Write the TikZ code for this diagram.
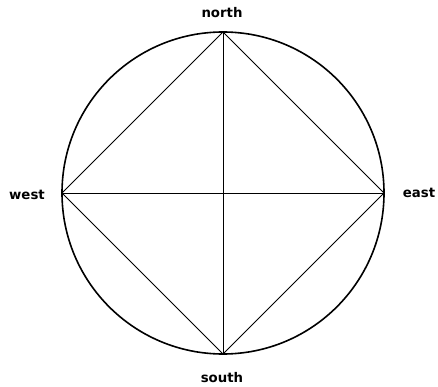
\documentclass[tikz,border=0pt]{standalone}
\usepackage{fontspec}
\setmainfont{DejaVu Sans}
\usetikzlibrary{calc}
\tikzset{
  rim/.style={line width=1.6pt, black},
  chord/.style={line width=0.8pt, black},
  compass/.style={font=\bfseries\fontsize{13.3}{14}\selectfont, inner sep=0pt}
}

\begin{document}
\begin{tikzpicture}[x=1pt, y=-1pt]

  % frame of the picture
  \useasboundingbox (0,0) rectangle (438,387);

  % radius of the circle
  \def\rad{161}

  % centre and compass points
  \coordinate (C) at (223,193);
  \coordinate (N) at ($(C)+(0,-\rad)$);
  \coordinate (S) at ($(C)+(0,\rad)$);
  \coordinate (W) at ($(C)+(-\rad,0)$);
  \coordinate (E) at ($(C)+(\rad,0)$);

  % circle
  \draw[rim] (C) circle (\rad);

  % cross
  \draw[chord] (N) -- (S);
  \draw[chord] (W) -- (E);

  % square
  \draw[chord] (N) -- (E) -- (S) -- (W) -- cycle;

  % labels
  \node[compass] (north) at (222,13) {north};
  \node[compass] (south) at (222,378) {south};
  \node[compass] (west) at (27,195) {west};
  \node[compass] (east) at (419,193) {east};

\end{tikzpicture}
\end{document}
